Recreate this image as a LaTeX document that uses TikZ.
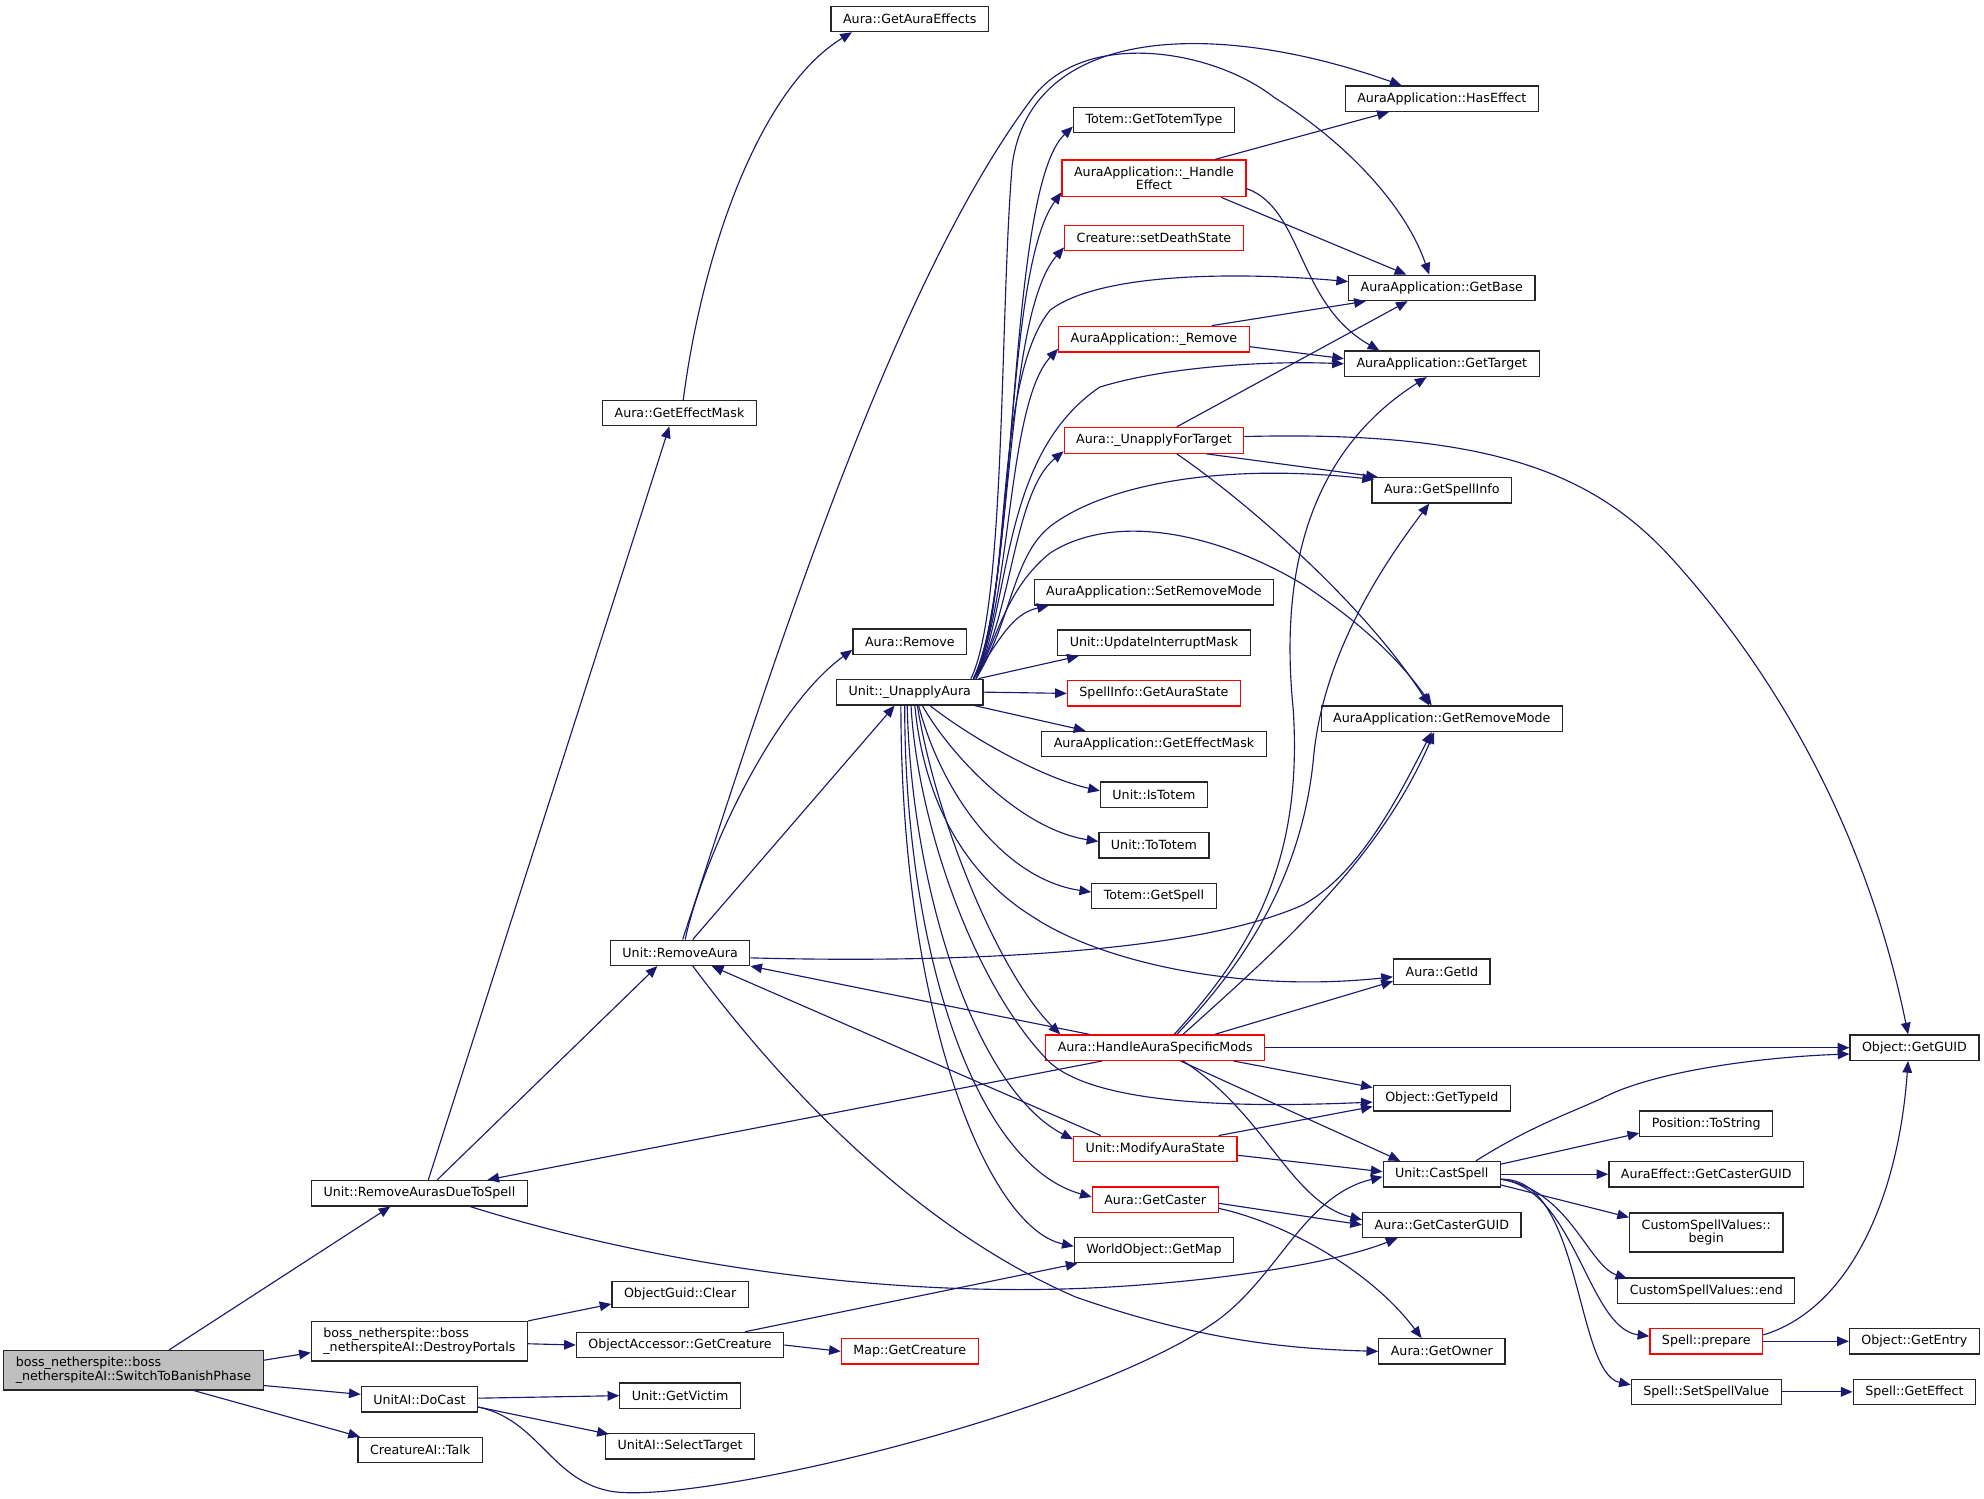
\documentclass[tikz,border=0pt]{standalone}
\usepackage{fontspec}
\usepackage{tikz}
\usetikzlibrary{calc,arrows.meta}
\newfontfamily\fnfamily{DejaVu Sans}
\newcommand\fnfont{\fnfamily\fontsize{5}{5.4}\selectfont}
\definecolor{midblue}{RGB}{25,25,112}
\tikzset{
  % node styles (functions, the root, functions with hidden callees)
  fn/.style={draw=black!85,line width=.5pt,fill=white,font=\fnfont,inner xsep=4.75pt,inner ysep=2.6pt,minimum height=10pt},
  fnred/.style={fn,draw=red},
  fnroot/.style={fn,fill=black!25,align=left},
  % call edge
  call/.style={draw=midblue,line width=.45pt,-{Triangle[length=4.6pt,width=3.8pt]}},
}
\begin{document}
\begin{tikzpicture}[x=0.5pt,y=-0.5pt]
  \useasboundingbox (0,0) rectangle (1568,1184);
  % column 0
  \node[fnroot] (root) at (105.5,1083) {boss\_netherspite::boss\\\_netherspiteAI::SwitchToBanishPhase};
  % column 1
  \node[fn] (rmdue) at (331.5,943) {Unit::RemoveAurasDueToSpell};
  \node[fn,align=left] (destroy) at (331.5,1060) {boss\_netherspite::boss\\\_netherspiteAI::DestroyPortals};
  \node[fn] (docast) at (331.5,1106) {UnitAI::DoCast};
  \node[fn] (talk) at (332,1146) {CreatureAI::Talk};
  % column 2
  \node[fn] (effmask) at (537,326.5) {Aura::GetEffectMask};
  \node[fn] (rmaura) at (537.5,753) {Unit::RemoveAura};
  \node[fn] (guidclr) at (537.5,1023) {ObjectGuid::Clear};
  \node[fn] (getcre) at (537.5,1063) {ObjectAccessor::GetCreature};
  \node[fn] (victim) at (537.5,1103) {Unit::GetVictim};
  \node[fn] (seltgt) at (537.5,1143) {UnitAI::SelectTarget};
  % column 3
  \node[fn] (auraeff) at (719,15) {Aura::GetAuraEffects};
  \node[fn] (auraremove) at (719,507) {Aura::Remove};
  \node[fn] (unapply) at (719,547) {Unit::\_UnapplyAura};
  \node[fnred] (mapcre) at (719,1068) {Map::GetCreature};
  % column 4
  \node[fn] (tottype) at (912,95) {Totem::GetTotemType};
  \node[fnred,align=center] (handle) at (912,141) {AuraApplication::\_Handle\\Effect};
  \node[fnred] (death) at (912,188) {Creature::setDeathState};
  \node[fnred] (apremove) at (912,268) {AuraApplication::\_Remove};
  \node[fnred] (unapplyft) at (912,348) {Aura::\_UnapplyForTarget};
  \node[fn] (setrm) at (912,468) {AuraApplication::SetRemoveMode};
  \node[fn] (updint) at (912,508) {Unit::UpdateInterruptMask};
  \node[fnred] (aurast) at (912,548) {SpellInfo::GetAuraState};
  \node[fn] (apeffmask) at (912,588) {AuraApplication::GetEffectMask};
  \node[fn] (istotem) at (912,628) {Unit::IsTotem};
  \node[fn] (tototem) at (912,668) {Unit::ToTotem};
  \node[fn] (getspell) at (912,708) {Totem::GetSpell};
  \node[fnred] (hasm) at (913,828) {Aura::HandleAuraSpecificMods};
  \node[fnred] (modstate) at (913,908) {Unit::ModifyAuraState};
  \node[fnred] (caster) at (913,948) {Aura::GetCaster};
  \node[fn] (getmap) at (912,988) {WorldObject::GetMap};
  % column 5
  \node[fn] (haseff) at (1139.5,78) {AuraApplication::HasEffect};
  \node[fn] (getbase) at (1139.5,227.5) {AuraApplication::GetBase};
  \node[fn] (gettgt) at (1139.5,287.5) {AuraApplication::GetTarget};
  \node[fn] (spellinfo) at (1139.5,387.5) {Aura::GetSpellInfo};
  \node[fn] (getrm) at (1139.5,568) {AuraApplication::GetRemoveMode};
  \node[fn] (getid) at (1139.5,768) {Aura::GetId};
  \node[fn] (typeid) at (1139.5,868) {Object::GetTypeId};
  \node[fn] (cast) at (1139.5,928) {Unit::CastSpell};
  \node[fn] (castguid) at (1139.5,968) {Aura::GetCasterGUID};
  \node[fn] (owner) at (1139.5,1068) {Aura::GetOwner};
  % column 6
  \node[fn] (tostr) at (1348.5,888) {Position::ToString};
  \node[fn] (effguid) at (1348.5,928) {AuraEffect::GetCasterGUID};
  \node[fn,align=center] (csvbegin) at (1348.5,974) {CustomSpellValues::\\begin};
  \node[fn] (csvend) at (1348.5,1020) {CustomSpellValues::end};
  \node[fnred] (prepare) at (1348.5,1060) {Spell::prepare};
  \node[fn] (setval) at (1348.5,1100) {Spell::SetSpellValue};
  % column 7
  \node[fn] (guid) at (1513,828) {Object::GetGUID};
  \node[fn] (entry) at (1513,1060) {Object::GetEntry};
  \node[fn] (geteff) at (1513,1100) {Spell::GetEffect};

  % calls of the root
  \draw[call] ($(root.north)+(28,0)$) -- ($(rmdue.south)+(-23,0)$);
  \draw[call] ($(root.east)+(0,-8)$) -- ($(destroy.west)+(0,9)$);
  \draw[call] ($(root.east)+(0,12)$) -- ($(docast.west)+(0,-4)$);
  \draw[call] ($(root.south east)+(-55,0)$) -- ($(talk.north west)+(2,0)$);
  % Unit::RemoveAurasDueToSpell
  \draw[call] ($(rmdue.north)+(7,0)$) -- ($(effmask.south)+(-8,0)$);
  \draw[call] ($(rmdue.north)+(14,0)$) -- ($(rmaura.south)+(-18,0)$);
  \draw[call] ($(rmdue.south)+(40,0)$) .. controls (520,1000) and (700,1025) .. (860,1018)
    .. controls (950,1014) and (1050,1000) .. ($(castguid.south)+(-35,0)$);
  % DestroyPortals, DoCast
  \draw[call] (destroy.north east) -- ($(guidclr.south west)+(0,-3)$);
  \draw[call] ($(destroy.east)+(0,2)$) -- (getcre.west);
  \draw[call] ($(docast.east)+(0,-1)$) -- (victim.west);
  \draw[call] ($(docast.east)+(0,6)$) -- ($(seltgt.north west)+(3,1)$);
  \draw[call] ($(docast.east)+(0,6)$) .. controls (425,1122) and (435,1168) .. (480,1178)
    .. controls (540,1192) and (850,1120) .. (960,1045)
    .. controls (1010,1010) and (1030,945) .. ($(cast.west)+(0,2)$);
  % Aura::GetEffectMask
  \draw[call] ($(effmask.north)+(3,0)$) .. controls (555,200) and (600,70) .. ($(auraeff.south west)+(17,0)$);
  % Unit::RemoveAura
  \draw[call] ($(rmaura.north)+(4,0)$) .. controls (555,680) and (610,560) .. ($(auraremove.south west)+(0,-4)$);
  \draw[call] ($(rmaura.north)+(10,0)$) -- ($(unapply.south)+(-12,0)$);
  \draw[call] ($(rmaura.north)+(2,0)$) .. controls (600,560) and (700,230) .. (817,76)
    .. controls (860,22) and (960,40) .. (1007,77)
    .. controls (1060,110) and (1110,160) .. ($(getbase.north)+(-10,0)$);
  \draw[call] ($(rmaura.east)+(0,4)$) .. controls (700,760) and (930,760) .. (1030,715)
    .. controls (1075,690) and (1105,630) .. ($(getrm.south)+(-8,0)$);
  \draw[call] ($(rmaura.south)+(10,0)$) .. controls (590,820) and (700,960) .. (850,1025)
    .. controls (950,1060) and (1020,1066) .. (owner.west);
  % Unit::_UnapplyAura, upwards
  \draw[call] ($(unapply.north east)+(-8,0)$) .. controls (805,470) and (795,150) .. ($(tottype.west)+(0,5)$);
  \draw[call] ($(unapply.north east)+(-8,0)$) .. controls (803,470) and (793,215) .. ($(handle.south west)+(0,-4)$);
  \draw[call] ($(unapply.north east)+(-8,0)$) .. controls (801,470) and (793,250) .. ($(death.south west)+(0,-3)$);
  \draw[call] ($(unapply.north east)+(-8,0)$) .. controls (800,480) and (795,320) .. ($(apremove.south west)+(0,-3)$);
  \draw[call] ($(unapply.north east)+(-8,0)$) .. controls (800,490) and (800,390) .. ($(unapplyft.south west)+(0,-2)$);
  \draw[call] ($(unapply.north east)+(-8,0)$) .. controls (790,505) and (800,485) .. ($(setrm.south west)+(12,0)$);
  \draw[call] ($(unapply.north east)+(-10,0)$) .. controls (795,480) and (790,250) .. (800,130)
    .. controls (815,20) and (960,15) .. ($(haseff.north west)+(45,0)$);
  \draw[call] ($(unapply.north east)+(-6,0)$) .. controls (800,470) and (785,300) .. (830,245)
    .. controls (870,215) and (980,215) .. ($(getbase.west)+(0,-5)$);
  \draw[call] ($(unapply.north east)+(-6,0)$) .. controls (800,475) and (790,360) .. (869,306)
    .. controls (920,290) and (1000,285) .. (gettgt.west);
  \draw[call] ($(unapply.north east)+(-6,0)$) .. controls (800,490) and (800,440) .. (830,416)
    .. controls (870,385) and (960,365) .. ($(spellinfo.north west)+(2,2)$);
  \draw[call] ($(unapply.north east)+(-6,0)$) .. controls (788,505) and (795,465) .. (830,437)
    .. controls (880,405) and (960,420) .. (1030,462)
    .. controls (1075,492) and (1105,520) .. ($(getrm.north)+(-8,0)$);
  \draw[call] ($(unapply.north east)+(-4,0)$) -- ($(updint.south west)+(17,0)$);
  \draw[call] (unapply.east) -- (aurast.west);
  \draw[call] ($(unapply.south east)+(-7,0)$) -- ($(apeffmask.north west)+(35,0)$);
  % Unit::_UnapplyAura, downwards
  \draw[call] ($(unapply.south)+(16,0)$) .. controls (770,585) and (825,615) .. ($(istotem.west)+(0,-3)$);
  \draw[call] ($(unapply.south)+(10,0)$) .. controls (750,595) and (805,655) .. ($(tototem.west)+(0,-3)$);
  \draw[call] ($(unapply.south)+(7,0)$) .. controls (745,630) and (795,695) .. ($(getspell.west)+(0,-3)$);
  \draw[call] ($(unapply.south)+(4,0)$) .. controls (730,630) and (760,690) .. (817,725)
    .. controls (870,760) and (980,785) .. ($(getid.west)+(0,4)$);
  \draw[call] ($(unapply.south)+(1,0)$) .. controls (725,650) and (770,780) .. (830,840)
    .. controls (870,875) and (990,875) .. ($(typeid.west)+(0,3)$);
  \draw[call] ($(unapply.south)+(6,0)$) .. controls (740,650) and (790,770) .. ($(hasm.north west)+(12,0)$);
  \draw[call] ($(unapply.south)+(-2,0)$) .. controls (720,700) and (770,860) .. ($(modstate.north west)+(0,3)$);
  \draw[call] ($(unapply.south)+(-4,0)$) .. controls (715,750) and (770,920) .. ($(caster.west)+(0,-2)$);
  \draw[call] ($(unapply.south)+(-7,0)$) .. controls (712,800) and (780,970) .. ($(getmap.west)+(0,-3)$);
  % AuraApplication::_HandleEffect, AuraApplication::_Remove
  \draw[call] ($(handle.north east)+(-25,0)$) -- ($(haseff.south west)+(35,0)$);
  \draw[call] ($(handle.south east)+(-20,0)$) -- ($(getbase.north west)+(46,0)$);
  \draw[call] ($(handle.east)+(0,8)$) .. controls (1030,165) and (1025,240) .. ($(gettgt.north west)+(28,0)$);
  \draw[call] ($(apremove.north east)+(-30,0)$) -- ($(getbase.south west)+(14,0)$);
  \draw[call] ($(apremove.east)+(0,6)$) -- ($(gettgt.west)+(0,-4)$);
  % Aura::_UnapplyForTarget
  \draw[call] ($(unapplyft.north)+(18,0)$) -- ($(getbase.south)+(-27,0)$);
  \draw[call] ($(unapplyft.south east)+(-30,0)$) -- ($(spellinfo.north west)+(5,0)$);
  \draw[call] ($(unapplyft.south)+(18,0)$) .. controls (990,400) and (1080,480) .. ($(getrm.north)+(-10,0)$);
  \draw[call] ($(unapplyft.east)+(0,-3)$) .. controls (1180,340) and (1260,375) .. (1320,440)
    .. controls (1420,550) and (1480,680) .. ($(guid.north)+(-5,0)$);
  % Aura::HandleAuraSpecificMods
  \draw[call] ($(hasm.north west)+(35,0)$) -- (rmaura.south east);
  \draw[call] ($(hasm.south west)+(45,0)$) -- ($(rmdue.north east)+(-32,0)$);
  \draw[call] ($(hasm.north)+(15,0)$) .. controls (990,750) and (1030,680) .. (1022,560)
    .. controls (1012,460) and (1030,360) .. ($(gettgt.south)+(-12,0)$);
  \draw[call] ($(hasm.north)+(17,0)$) .. controls (995,750) and (1030,680) .. (1038,600)
    .. controls (1045,520) and (1090,450) .. ($(spellinfo.south)+(-10,0)$);
  \draw[call] ($(hasm.north)+(22,0)$) .. controls (1010,750) and (1090,680) .. ($(getrm.south)+(-6,0)$);
  \draw[call] ($(hasm.north east)+(-40,0)$) -- ($(getid.south west)+(0,-3)$);
  \draw[call] (hasm.east) -- (guid.west);
  \draw[call] ($(hasm.south east)+(-25,0)$) -- ($(typeid.north west)+(0,2)$);
  \draw[call] ($(hasm.south)+(20,0)$) -- ($(cast.north west)+(14,0)$);
  \draw[call] ($(hasm.south)+(22,0)$) .. controls (1000,880) and (1020,950) .. ($(castguid.west)+(0,-4)$);
  % Unit::ModifyAuraState, Aura::GetCaster
  \draw[call] ($(modstate.north west)+(22,0)$) -- ($(rmaura.south)+(25,0)$);
  \draw[call] ($(modstate.north east)+(-15,0)$) -- ($(typeid.south west)+(0,-4)$);
  \draw[call] ($(modstate.east)+(0,5)$) -- ($(cast.west)+(0,-2)$);
  \draw[call] ($(caster.east)+(0,3)$) -- (castguid.west);
  \draw[call] ($(caster.east)+(0,7)$) .. controls (1010,965) and (1080,1000) .. ($(owner.north)+(-16,0)$);
  % ObjectAccessor::GetCreature
  \draw[call] ($(getcre.north east)+(-31,0)$) -- ($(getmap.south west)+(3,0)$);
  \draw[call] (getcre.east) -- (mapcre.west);
  % Unit::CastSpell
  \draw[call] ($(cast.north east)+(-20,0)$) .. controls (1210,890) and (1240,880) .. (1266,868)
    .. controls (1310,845) and (1400,835) .. ($(guid.west)+(0,5)$);
  \draw[call] ($(cast.east)+(0,-8)$) -- ($(tostr.south west)+(0,-3)$);
  \draw[call] (cast.east) -- (effguid.west);
  \draw[call] ($(cast.south east)+(0,-2)$) -- ($(csvbegin.north west)+(0,4)$);
  \draw[call] ($(cast.east)+(0,4)$) .. controls (1240,940) and (1255,1000) .. ($(csvend.north west)+(8,1)$);
  \draw[call] ($(cast.east)+(0,4)$) .. controls (1245,940) and (1255,1050) .. ($(prepare.west)+(0,-4)$);
  \draw[call] ($(cast.east)+(0,4)$) .. controls (1250,930) and (1245,1085) .. ($(setval.north west)+(0,5)$);
  % Spell::prepare, Spell::SetSpellValue
  \draw[call] ($(prepare.east)+(0,-5)$) .. controls (1460,1035) and (1500,950) .. ($(guid.south)+(-5,0)$);
  \draw[call] (prepare.east) -- (entry.west);
  \draw[call] (setval.east) -- (geteff.west);
\end{tikzpicture}
\end{document}
